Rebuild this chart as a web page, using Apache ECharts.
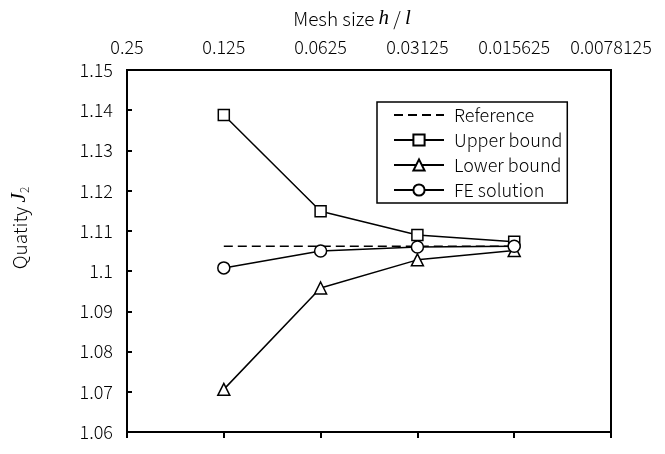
<!DOCTYPE html>
<html>
<head>
<meta charset="utf-8">
<script src="https://cdn.jsdelivr.net/npm/echarts@6/dist/echarts.min.js"></script>
<style>html,body{margin:0;padding:0;background:#fff;}#c{width:665px;height:454px;}</style>
</head>
<body>
<div id="c"></div>
<script>
const meshSizes = ['0.25', '0.125', '0.0625', '0.03125', '0.015625', '0.0078125'];
const referenceVals = [null, 1.1062, 1.1062, 1.1062, 1.1062, null];
const upperBound = [null, 1.1388, 1.1149, 1.1090, 1.1073, null];
const lowerBound = [null, 1.0706, 1.0958, 1.1028, 1.1051, null];
const feSolution = [null, 1.1008, 1.1050, 1.1060, 1.1062, null];

const FONT = 'Noto Sans CJK SC';
const FW = 300;
const chart = echarts.init(document.getElementById('c'));
const markerStyle = { color: '#fff', borderColor: '#000', borderWidth: 1.5 };
const lineStyle = { color: '#000', width: 1.5 };

chart.setOption({
  backgroundColor: '#fff',
  animation: false,
  textStyle: { fontFamily: FONT, fontWeight: FW },
  grid: { left: 127, right: 54, top: 70, bottom: 22, show: true, borderColor: '#000', borderWidth: 2, outerBoundsMode: 'none', containLabel: false },
  legend: {
    orient: 'vertical', left: 377, top: 102,
    itemWidth: 50, itemHeight: 14, itemGap: 7,
    padding: [4, 5, 4, 16],
    borderColor: '#000', borderWidth: 1.5, backgroundColor: '#fff',
    textStyle: { fontFamily: FONT, fontWeight: FW, fontSize: 18, color: '#000', padding: [0, 0, 0, 5] },
    data: [
      { name: 'Reference', itemStyle: { color: 'transparent', borderWidth: 0 } },
      'Upper bound', 'Lower bound', 'FE solution'
    ]
  },
  xAxis: [
    {
      type: 'category', data: meshSizes, position: 'top', boundaryGap: false,
      name: '{a|Mesh size }{i|h}{a| / }{i|l}', nameLocation: 'middle', nameGap: 41,
      nameTextStyle: { padding: [0, 34, 0, 0], rich: {
        a: { fontFamily: FONT, fontWeight: FW, fontSize: 19, color: '#000' },
        i: { fontFamily: 'Liberation Serif', fontStyle: 'italic', fontSize: 21, color: '#000' }
      } },
      axisLine: { lineStyle: { color: '#000', width: 2 } },
      axisTick: { show: false },
      axisLabel: { color: '#000', fontSize: 18, fontFamily: FONT, fontWeight: FW, margin: 14, interval: 0 },
      splitLine: { show: false }
    },
    {
      type: 'category', data: meshSizes, position: 'bottom', boundaryGap: false,
      axisLine: { lineStyle: { color: '#000', width: 2 } },
      axisTick: { show: true, inside: false, length: 6, interval: 0, lineStyle: { color: '#000', width: 2 } },
      axisLabel: { show: false },
      splitLine: { show: false }
    }
  ],
  yAxis: {
    type: 'value', min: 1.06, max: 1.15, interval: 0.01,
    name: '{a|Quatity }{i|J}{s|2}', nameLocation: 'middle', nameGap: 97, nameRotate: 90,
    nameTextStyle: { padding: [0, 0, 0, 46], rich: {
      a: { fontFamily: FONT, fontWeight: FW, fontSize: 19, color: '#000' },
      i: { fontFamily: 'Liberation Serif', fontStyle: 'italic', fontSize: 21, color: '#000' },
      s: { fontFamily: FONT, fontWeight: FW, fontSize: 12, color: '#000', verticalAlign: 'bottom', padding: [9, 0, 0, 0] }
    } },
    axisLine: { show: true, lineStyle: { color: '#000', width: 2 } },
    axisTick: { show: true, inside: true, length: 5, lineStyle: { color: '#000', width: 2 } },
    axisLabel: { color: '#000', fontSize: 18, fontFamily: FONT, fontWeight: FW, margin: 14 },
    splitLine: { show: false }
  },
  series: [
    { name: 'Reference', type: 'line', xAxisIndex: 0, data: referenceVals, symbol: 'none',
      lineStyle: { color: '#000', width: 1.5, type: [9, 5] }, itemStyle: { color: '#000' } },
    { name: 'Upper bound', type: 'line', xAxisIndex: 0, data: upperBound, symbol: 'rect', symbolSize: 11,
      showAllSymbol: true, lineStyle: lineStyle, itemStyle: markerStyle },
    { name: 'Lower bound', type: 'line', xAxisIndex: 0, data: lowerBound, symbol: 'triangle', symbolSize: 12,
      showAllSymbol: true, lineStyle: lineStyle, itemStyle: markerStyle },
    { name: 'FE solution', type: 'line', xAxisIndex: 0, data: feSolution, symbol: 'circle', symbolSize: 12,
      showAllSymbol: true, lineStyle: lineStyle, itemStyle: markerStyle }
  ]
});
</script>
</body>
</html>
